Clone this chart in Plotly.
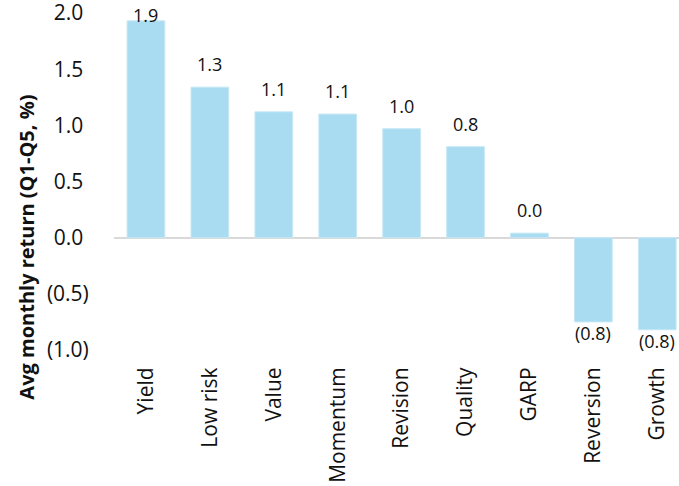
import plotly.graph_objects as go

factors = ["Yield", "Low risk", "Value", "Momentum", "Revision", "Quality", "GARP", "Reversion", "Growth"]
avg_return = [1.93, 1.34, 1.12, 1.10, 0.97, 0.81, 0.04, -0.75, -0.82]

y_ticks = [-1.0, -0.5, 0.0, 0.5, 1.0, 1.5, 2.0]
Y_MIN, Y_MAX = -1.0, 2.0

FONT = "Open Sans, Noto Sans, sans-serif"
INK = "#111111"


def fmt(v):
    # negatives in brackets; positives get a trailing space so digits line up
    return f"({abs(v):.1f})" if v < 0 else f"{v:.1f}\u00a0"


fig = go.Figure()
fig.add_trace(go.Bar(
    x=factors,
    y=avg_return,
    marker=dict(color="#A9DCF1", line=dict(color="#C6E8F6", width=1)),
    hoverinfo="x+y",
))

# data labels: above positive bars, below negative ones, kept inside the plot at the top
for name, v in zip(factors, avg_return):
    if v < 0:
        y, shift = v, -11
    elif v > Y_MAX - 0.15:
        y, shift = Y_MAX, -2
    else:
        y, shift = v, 23
    fig.add_annotation(
        x=name, y=y, yshift=shift,
        text=fmt(v).strip("\u00a0"),
        showarrow=False, xanchor="center", yanchor="middle",
        font=dict(family=FONT, size=18, color=INK),
    )

fig.add_annotation(
    xref="paper", yref="paper", x=-0.155, y=0.305,
    text="<b>Avg monthly return (Q1-Q5, %)</b>",
    textangle=-90, showarrow=False, xanchor="center", yanchor="middle",
    font=dict(family=FONT, size=20, color=INK),
)

fig.update_layout(
    width=679,
    height=486,
    margin=dict(l=114, r=0, t=13, b=136),
    paper_bgcolor="white",
    plot_bgcolor="white",
    font=dict(family=FONT, size=21, color=INK),
    showlegend=False,
    bargap=0.41,
    xaxis=dict(
        range=[-0.5, 8.34],
        tickangle=-90,
        showgrid=False,
        showline=False,
        ticks="outside",
        ticklen=8,
        tickcolor="rgba(0,0,0,0)",
        automargin=False,
        tickfont=dict(size=21),
    ),
    yaxis=dict(
        range=[Y_MIN, Y_MAX],
        tickvals=y_ticks,
        ticktext=[fmt(v) for v in y_ticks],
        showgrid=False,
        zeroline=True,
        zerolinecolor="#D9D9D9",
        zerolinewidth=2,
        ticks="outside",
        ticklen=20,
        tickcolor="rgba(0,0,0,0)",
        automargin=False,
        ticklabeloverflow="allow",
        tickfont=dict(size=21),
    ),
)

fig.write_html(
    "out.html",
    config={"displayModeBar": False},
    post_script="document.body.style.margin='0';",
)
